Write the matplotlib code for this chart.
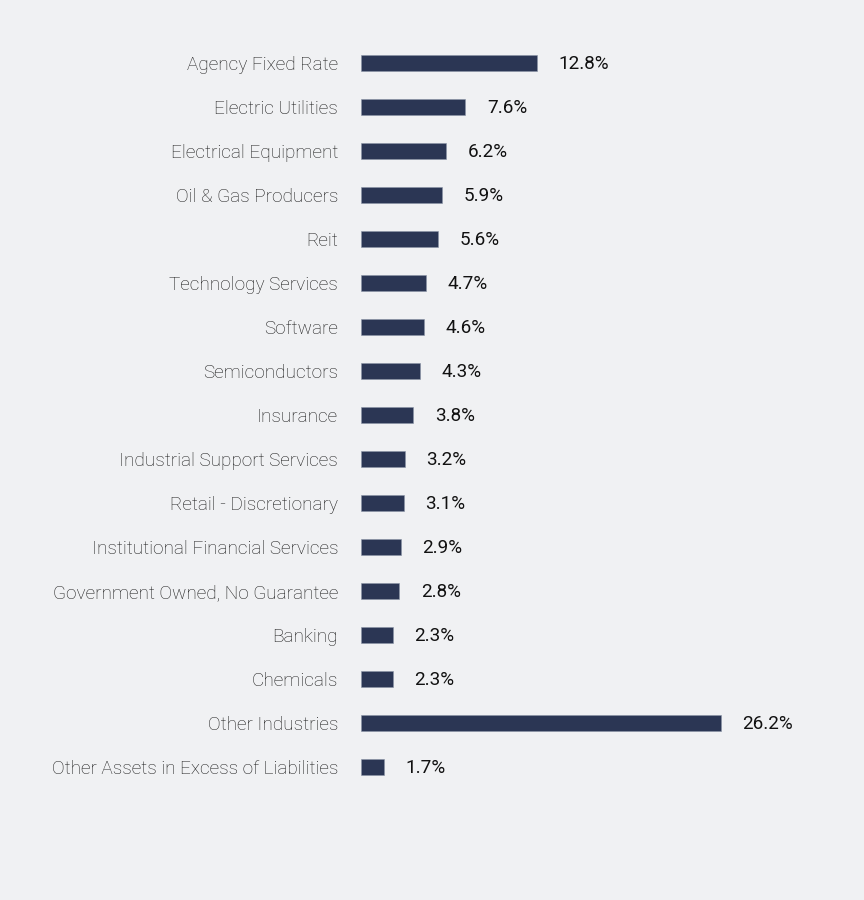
import matplotlib.pyplot as plt

categories = ["Agency Fixed Rate", "Electric Utilities", "Electrical Equipment",
              "Oil & Gas Producers", "Reit", "Technology Services", "Software",
              "Semiconductors", "Insurance", "Industrial Support Services",
              "Retail - Discretionary", "Institutional Financial Services",
              "Government Owned, No Guarantee", "Banking", "Chemicals",
              "Other Industries", "Other Assets in Excess of Liabilities"]
values = [12.8, 7.6, 6.2, 5.9, 5.6, 4.7, 4.6, 4.3, 3.8, 3.2, 3.1, 2.9, 2.8,
          2.3, 2.3, 26.2, 1.7]

bg = "#f0f1f3"
bar_color = "#2b3654"

plt.rcParams['font.family'] = ['Roboto', 'DejaVu Sans']

fig = plt.figure(figsize=(8.64, 9), dpi=100, facecolor=bg)
ax = fig.add_axes([361 / 864, 1 - 789 / 900, 460 / 864, 748 / 900])
ax.set_facecolor(bg)

ypos = list(range(len(categories)))
ax.barh(ypos, values, height=0.36, color=bar_color, edgecolor="#8a93a6",
        linewidth=0.4)
ax.set_ylim(len(categories) - 0.5, -0.5)
ax.set_xlim(0, 460 / (360 / 26.2))

for y, v in zip(ypos, values):
    ax.annotate(f"{v:.1f}%", (v, y), xytext=(15.5, -1), textcoords="offset points",
                va="center", ha="left", fontsize=13.6, color="#111111")

ax.set_yticks(ypos)
ax.set_yticklabels(categories, fontsize=13.7, color="#1a1a1a", fontweight="light")
ax.tick_params(axis="y", length=0, pad=16.5)
ax.set_xticks([])
for s in ax.spines.values():
    s.set_visible(False)

fig.savefig("out.png", dpi=100, facecolor=bg)
